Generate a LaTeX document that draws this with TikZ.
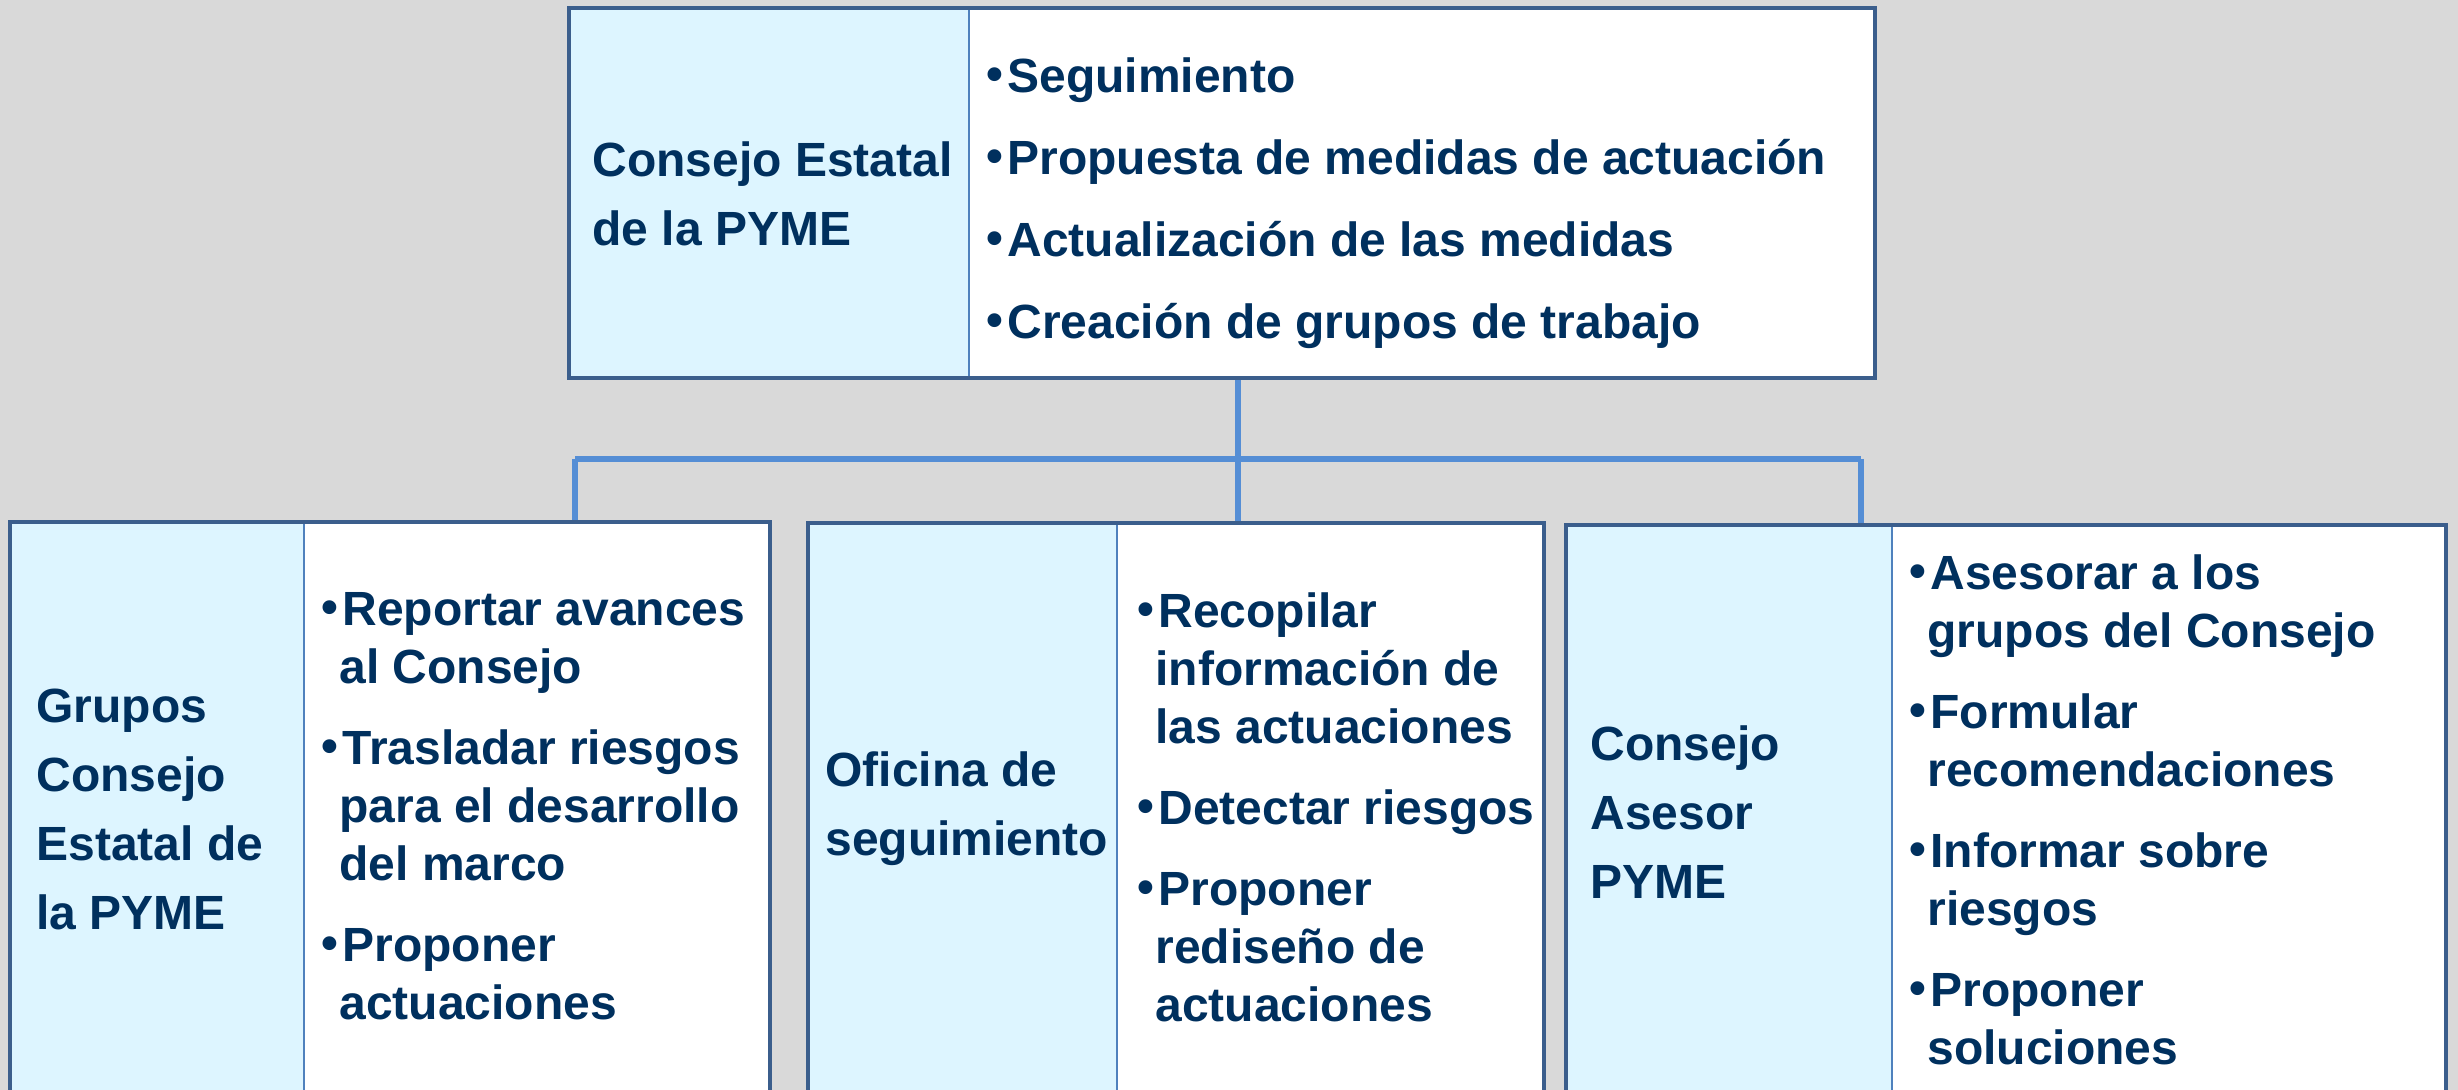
\documentclass[tikz,border=0pt]{standalone}
\usepackage{fontspec}
\setmainfont{Liberation Sans}
\definecolor{navy}{RGB}{0,48,94}
\definecolor{bordc}{RGB}{59,94,140}
\definecolor{connc}{RGB}{85,142,213}
\definecolor{panec}{RGB}{221,245,255}
\definecolor{bgc}{RGB}{217,217,217}
\definecolor{divc}{RGB}{79,129,189}
\newcommand{\bul}{\makebox[10.5pt][l]{\raisebox{1pt}{•}}}
\newcommand{\ind}{\hspace*{9pt}}
\begin{document}
\begin{tikzpicture}[x=0.5pt,y=-0.5pt,
  lpane/.style={fill=panec,inner sep=0pt,outer sep=0pt,anchor=north west},
  rpane/.style={fill=white,inner sep=0pt,outer sep=0pt,anchor=north west},
  boxborder/.style={draw=bordc,line width=2pt},
  divline/.style={draw=divc,line width=1pt},
  conn/.style={draw=connc,line width=3pt},
  lbl/.style={text=navy,font=\fontsize{24pt}{34.5pt}\selectfont\bfseries,align=left,anchor=west,inner sep=0pt},
  items/.style={text=navy,font=\fontsize{24pt}{29pt}\selectfont\bfseries,align=left,anchor=west,inner sep=0pt}]
\useasboundingbox (0,0) rectangle (2458,1090);
\clip (0,0) rectangle (2458,1090);
\fill[bgc] (0,0) rectangle (2458,1090);

% panes
\node[lpane,minimum width=200pt,minimum height=185pt] (topL) at (569,8) {};
\node[rpane,minimum width=453pt,minimum height=185pt] (topR) at (969,8) {};
\node[lpane,minimum width=147pt,minimum height=294pt] (b1L) at (10,522) {};
\node[rpane,minimum width=233pt,minimum height=294pt] (b1R) at (304,522) {};
\node[lpane,minimum width=154.5pt,minimum height=294pt] (b2L) at (808,523) {};
\node[rpane,minimum width=213.5pt,minimum height=294pt] (b2R) at (1117,523) {};
\node[lpane,minimum width=163pt,minimum height=294pt] (b3L) at (1566,525) {};
\node[rpane,minimum width=277pt,minimum height=294pt] (b3R) at (1892,525) {};

% connectors
\coordinate (j) at (1238,459);
\coordinate (hubL) at (575,459);
\coordinate (hubR) at (1861,459);
\draw[conn] (j |- topR.south) -- (j);
\draw[conn] (hubL) -- (hubR);
\draw[conn] (hubL) -- (hubL |- b1R.north);
\draw[conn] (j) -- (j |- b2R.north);
\draw[conn] (hubR) -- (hubR |- b3L.north);

% dividers and borders
\foreach \p in {top,b1,b2,b3}{
  \draw[divline] (\p L.north east) -- (\p L.south east);
  \draw[boxborder] (\p L.north west) rectangle (\p R.south east);
}

% texts
\node[lbl] (t1) at (592,194) {Consejo Estatal\\de la PYME};
\node[items] (t2) at (986,203) {\bul Seguimiento\\[12pt]\bul Propuesta de medidas de actuación\\[12pt]\bul Actualización de las medidas\\[12pt]\bul Creación de grupos de trabajo};

\node[lbl] (l1) at (36,809) {Grupos\\Consejo\\Estatal de\\la PYME};
\node[items] (i1) at (321,806) {\bul Reportar avances\\\ind al Consejo\\[11.5pt]\bul Trasladar riesgos\\\ind para el desarrollo\\\ind del marco\\[11.5pt]\bul Proponer\\\ind actuaciones};

\node[lbl] (l2) at (825,809) {Oficina de\\seguimiento};
\node[items] (i2) at (1137,807) {\bul Recopilar\\\ind información de\\\ind las actuaciones\\[11.5pt]\bul Detectar riesgos\\[11.5pt]\bul Proponer\\\ind rediseño de\\\ind actuaciones};

\node[lbl] (l3) at (1590,812) {Consejo\\Asesor\\PYME};
\node[items] (i3) at (1909,810) {\bul Asesorar a los\\\ind grupos del Consejo\\[11.5pt]\bul Formular\\\ind recomendaciones\\[11.5pt]\bul Informar sobre\\\ind riesgos\\[11.5pt]\bul Proponer\\\ind soluciones};
\end{tikzpicture}
\end{document}
